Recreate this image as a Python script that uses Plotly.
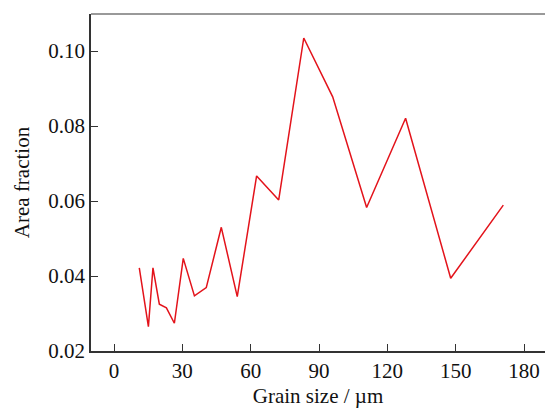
import plotly.graph_objects as go

grain_size = [11.1, 15.1, 17.1, 19.9, 23.0, 26.5, 30.4, 35.3, 40.5, 47.1, 54.1,
              62.6, 72.3, 83.3, 96.0, 110.9, 128.0, 147.8, 170.9]
area_fraction = [0.0422, 0.0265, 0.0422, 0.0325, 0.0315, 0.0274, 0.0447, 0.0347,
                 0.0369, 0.0530, 0.0345, 0.0667, 0.0603, 0.1035, 0.0878, 0.0583,
                 0.0821, 0.0394, 0.0589]
x_ticks = [0, 30, 60, 90, 120, 150, 180]
y_ticks = [0.02, 0.04, 0.06, 0.08, 0.10]
y_tick_text = ["0.02", "0.04", "0.06", "0.08", "0.10"]

fam = "Liberation Serif"
font = dict(family=fam, size=21, color="#111")
fig = go.Figure()
fig.add_trace(go.Scatter(x=grain_size, y=area_fraction, mode="lines",
                         line=dict(color="#e3131b", width=1.5), showlegend=False))

fig.update_layout(
    width=546, height=408,
    margin=dict(l=91, r=1, t=14, b=57),
    paper_bgcolor="white", plot_bgcolor="white",
    font=font,
    xaxis=dict(range=[-10.1, 189.2], tickvals=x_ticks, ticks="inside", ticklen=7,
               tickcolor="#333", showline=True, linecolor="#333", linewidth=1.5,
               showgrid=False, zeroline=False, automargin=False,
               tickfont=dict(family=fam, size=21, color="#111"),
               title=dict(text="Grain size / µm", standoff=8,
                          font=dict(family=fam, size=21, color="#111"))),
    yaxis=dict(range=[0.02, 0.1099], tickvals=y_ticks, ticktext=y_tick_text,
               ticks="inside", ticklen=7, tickcolor="#333", showline=True,
               linecolor="#333", linewidth=1.5, showgrid=False, zeroline=False,
               automargin=False,
               tickfont=dict(family=fam, size=21, color="#111"),
               title=dict(text="Area fraction", standoff=13,
                          font=dict(family=fam, size=21, color="#111"))),
)
fig.add_shape(type="line", xref="paper", yref="paper", x0=0, x1=1, y0=1, y1=1,
              line=dict(color="#777", width=1.5))
fig.write_html("out.html", config={"displayModeBar": False},
               post_script="document.body.style.margin='0';document.body.style.overflow='hidden';")
